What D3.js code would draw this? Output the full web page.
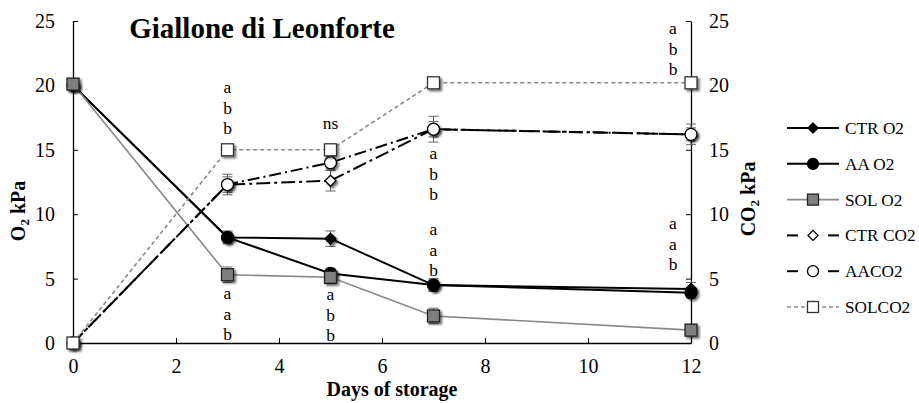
<!DOCTYPE html>
<html><head><meta charset="utf-8">
<script src="https://cdn.jsdelivr.net/npm/d3@7"></script>
<style>body{margin:0;background:#fff}svg{display:block}</style>
</head><body><svg id="c" width="919" height="403"></svg>
<script>
const days = [0, 3, 5, 7, 12];
const xTicks = [0, 2, 4, 6, 8, 10, 12];
const yTicks = [0, 5, 10, 15, 20, 25];
const ctrO2 = [20.0, 8.2, 8.1, 4.5, 4.2];
const aaO2 = [20.0, 8.2, 5.4, 4.5, 3.9];
const solO2 = [20.1, 5.3, 5.1, 2.1, 1.0];
const ctrCO2 = [0, 12.3, 12.6, 16.6, 16.2];
const aaCO2 = [0, 12.3, 14.0, 16.6, 16.2];
const solCO2 = [0, 15.0, 15.0, 20.2, 20.2];
const ctrO2Err = [0.3, 0.5, 0.6, 0.4, 0.5];
const aaO2Err = [0.3, 0.4, 0.4, 0.5, 0.4];
const solO2Err = [0.3, 0.6, 0.5, 0.6, 0.3];
const ctrCO2Err = [0.2, 0.6, 0.8, 0.6, 0.5];
const aaCO2Err = [0.2, 0.8, 0.5, 1.0, 0.8];
const solCO2Err = [0.2, 0.3, 0.3, 0.3, 0.3];
const seriesNames = ["CTR O2", "AA O2", "SOL O2", "CTR CO2", "AACO2", "SOLCO2"];
const letterGroups = [
  {day: 3, top: 87, letters: ["a", "b", "b"]},
  {day: 5, top: 123, letters: ["ns"]},
  {day: 7, top: 153, letters: ["a", "b", "b"]},
  {day: 12, top: 28, letters: ["a", "b", "b"]},
  {day: 3, top: 293, letters: ["a", "a", "b"]},
  {day: 5, top: 294, letters: ["a", "b", "b"]},
  {day: 7, top: 229, letters: ["a", "a", "b"]},
  {day: 12, top: 223, letters: ["a", "a", "b"]}
];

const FONT = '"Liberation Serif","DejaVu Serif",serif';
const svg = d3.select("#c").attr("font-family", FONT);

// calibrate font size so text widths match the reference
const probe = svg.append("text").attr("font-family", FONT).attr("font-size", 20).attr("font-weight", "bold").text("Days of storage");
const measured = probe.node().getComputedTextLength();
probe.remove();
const k = measured > 0 ? Math.min(1.1, 131 / measured) : 1;
const fs = n => n * k;

const x = d3.scaleLinear().domain([0, 12]).range([73, 691]);
const yL = d3.scaleLinear().domain([0, 25]).range([343, 21]);
const yR = d3.scaleLinear().domain([0, 25]).range([343, 21]);

const defs = svg.append("defs");
const f = defs.append("filter").attr("id", "sh").attr("x", "-50%").attr("y", "-50%").attr("width", "200%").attr("height", "200%");
f.append("feDropShadow").attr("dx", 2).attr("dy", 2).attr("stdDeviation", 1).attr("flood-color", "#000").attr("flood-opacity", 0.55);

// axes
const gx = svg.append("g").attr("transform", "translate(0,343)")
  .call(d3.axisBottom(x).tickValues(xTicks).tickSize(-5).tickPadding(16).tickSizeOuter(0));
const gl = svg.append("g").attr("transform", "translate(73,0)")
  .call(d3.axisLeft(yL).tickValues(yTicks).tickSize(-5).tickPadding(18).tickSizeOuter(0));
const gr = svg.append("g").attr("transform", "translate(691,0)")
  .call(d3.axisRight(yR).tickValues(yTicks).tickSize(-5).tickPadding(18).tickSizeOuter(0));
[gx, gl, gr].forEach(g => {
  g.attr("font-family", FONT).attr("font-size", fs(20));
  g.selectAll("path").attr("stroke", "#000").attr("stroke-width", 1.3);
  g.selectAll("line").attr("stroke", "#000");
  g.selectAll("text").attr("fill", "#000");
});
gx.selectAll(".tick text").attr("dy", "0.71em");

// title & labels
svg.append("text").attr("x", 262).attr("y", 38).attr("text-anchor", "middle")
  .attr("font-size", fs(29)).attr("font-weight", "bold").text("Giallone di Leonforte");
svg.append("text").attr("x", 392).attr("y", 396).attr("text-anchor", "middle")
  .attr("font-size", fs(20)).attr("font-weight", "bold").text("Days of storage");
const lo = svg.append("text").attr("transform", "translate(25,211) rotate(-90)").attr("text-anchor", "middle")
  .attr("font-size", fs(20)).attr("font-weight", "bold");
lo.append("tspan").text("O");
lo.append("tspan").attr("font-size", fs(13)).attr("dy", 4).text("2");
lo.append("tspan").attr("dy", -4).text(" kPa");
const ro = svg.append("text").attr("transform", "translate(755,199) rotate(-90)").attr("text-anchor", "middle")
  .attr("font-size", fs(20)).attr("font-weight", "bold");
ro.append("tspan").text("CO");
ro.append("tspan").attr("font-size", fs(13)).attr("dy", 4).text("2");
ro.append("tspan").attr("dy", -4).text(" kPa");

const styles = [
  {vals: ctrO2, err: ctrO2Err, y: yL, color: "#000", w: 2, dash: null, shape: "diamond", fill: "#000", stroke: "#000", size: 11},
  {vals: aaO2, err: aaO2Err, y: yL, color: "#000", w: 2, dash: null, shape: "circle", fill: "#000", stroke: "#000", size: 12},
  {vals: solO2, err: solO2Err, y: yL, color: "#888", w: 1.6, dash: null, shape: "square", fill: "#7f7f7f", stroke: "#222", size: 12},
  {vals: ctrCO2, err: ctrCO2Err, y: yR, color: "#000", w: 2, dash: "14,4,3,4", shape: "diamond", fill: "#fff", stroke: "#000", size: 11},
  {vals: aaCO2, err: aaCO2Err, y: yR, color: "#000", w: 2, dash: "12,4,2,4", shape: "circle", fill: "#fff", stroke: "#000", size: 12},
  {vals: solCO2, err: solCO2Err, y: yR, color: "#888", w: 1.6, dash: "4,3", shape: "square", fill: "#fff", stroke: "#333", size: 12}
];

function marker(g, s, cx, cy) {
  let el;
  if (s.shape === "diamond") {
    const r = s.size / 2;
    el = g.append("path").attr("d", `M${cx},${cy - r}L${cx + r},${cy}L${cx},${cy + r}L${cx - r},${cy}Z`);
  } else if (s.shape === "circle") {
    el = g.append("circle").attr("cx", cx).attr("cy", cy).attr("r", s.size / 2);
  } else {
    el = g.append("rect").attr("x", cx - s.size / 2).attr("y", cy - s.size / 2).attr("width", s.size).attr("height", s.size);
  }
  el.attr("fill", s.fill).attr("stroke", s.stroke).attr("stroke-width", 1.3);
  return el;
}

const line = (yS) => d3.line().x((d, i) => x(days[i])).y(d => yS(d));
const plot = svg.append("g");
styles.forEach(s => {
  const eg = plot.append("g").attr("stroke", "#666").attr("stroke-width", 1);
  s.vals.forEach((v, i) => {
    const cx = x(days[i]);
    eg.append("line").attr("x1", cx).attr("x2", cx).attr("y1", s.y(v - s.err[i])).attr("y2", s.y(v + s.err[i]));
    [v - s.err[i], v + s.err[i]].forEach(e => eg.append("line").attr("x1", cx - 5).attr("x2", cx + 5).attr("y1", s.y(e)).attr("y2", s.y(e)));
  });
  plot.append("path").datum(s.vals).attr("d", line(s.y)).attr("fill", "none")
    .attr("stroke", s.color).attr("stroke-width", s.w).attr("stroke-dasharray", s.dash);
});
styles.forEach(s => {
  const mg = plot.append("g").attr("filter", "url(#sh)");
  s.vals.forEach((v, i) => marker(mg, s, x(days[i]), s.y(v)));
});

// letters
const lg = svg.append("g").attr("font-size", fs(17.5)).attr("text-anchor", "middle");
letterGroups.forEach(gp => {
  const cx = gp.day === 12 ? x(gp.day) - 18 : x(gp.day);
  gp.letters.forEach((t, j) => lg.append("text").attr("x", cx).attr("y", gp.top + j * 20.5).attr("dy", "0.35em").text(t));
});

// legend
const leg = svg.append("g");
seriesNames.forEach((name, i) => {
  const s = styles[i];
  const cy = 128 + i * 35.8;
  const g = leg.append("g");
  if (i >= 3 && i <= 4) {
    g.append("line").attr("x1", 787).attr("x2", 798).attr("y1", cy).attr("y2", cy).attr("stroke", s.color).attr("stroke-width", 2);
    g.append("line").attr("x1", 828).attr("x2", 839).attr("y1", cy).attr("y2", cy).attr("stroke", s.color).attr("stroke-width", 2);
  } else {
    g.append("line").attr("x1", 787).attr("x2", 839).attr("y1", cy).attr("y2", cy)
      .attr("stroke", s.color).attr("stroke-width", s.w).attr("stroke-dasharray", s.dash);
  }
  const ms = Object.assign({}, s, {size: s.size - 1});
  marker(g, ms, 813, cy);
  g.append("text").attr("x", 845).attr("y", cy).attr("dy", "0.35em").attr("font-size", fs(17.3)).text(name);
});
</script></body></html>
